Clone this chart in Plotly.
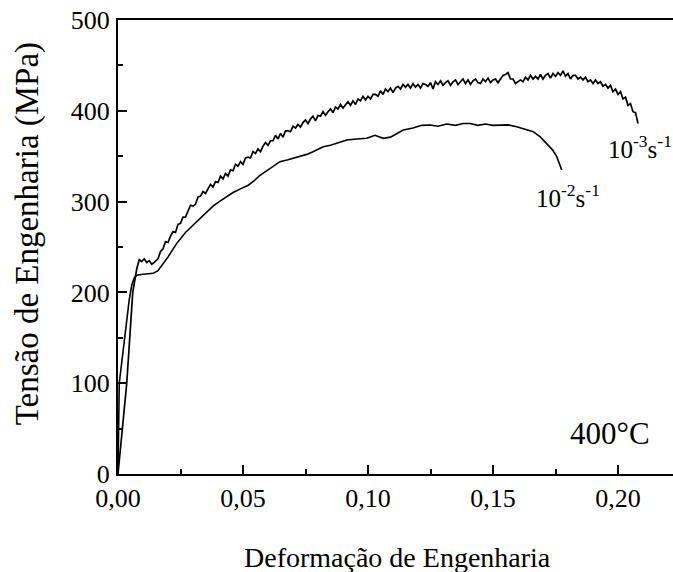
import plotly.graph_objects as go

# ---- data ----
strain_1e2 = [0, 0.0005, 0.0045, 0.0055, 0.0065, 0.0075, 0.010, 0.012, 0.0141, 0.016, 0.018, 0.020,
              0.0235, 0.027, 0.030, 0.033, 0.0355, 0.038, 0.0405, 0.0435, 0.046, 0.049, 0.0521,
              0.0545, 0.0568, 0.060, 0.0625, 0.0648, 0.068, 0.0705, 0.0728, 0.0755, 0.078, 0.0821,
              0.085, 0.088, 0.0915, 0.0955, 0.0995, 0.1028, 0.1061, 0.109, 0.1141, 0.118, 0.1215,
              0.1248, 0.128, 0.1315, 0.135, 0.138, 0.1408, 0.144, 0.147, 0.150, 0.1528, 0.156,
              0.1595, 0.163, 0.1661, 0.169, 0.1715, 0.1738, 0.1755, 0.1775]
stress_1e2 = [0, 100, 192, 208, 216, 219, 220, 220.5, 221, 224, 231, 239,
              254, 266, 274, 282, 289, 295, 300, 305, 310, 314, 318,
              323, 329, 335, 340, 344, 346, 348, 349.5, 352, 355, 360.5,
              362, 365, 367.8, 369, 369.7, 373, 369.7, 371, 378.9, 381, 384,
              384.4, 383, 385.5, 384, 386, 386, 384, 385.5, 384, 384.4, 384.5,
              382.5, 380, 377, 371, 364, 357, 349.5, 334.8]

strain_1e3 = [0, 0.0035, 0.0059, 0.0075, 0.0085, 0.0095, 0.0105, 0.0115, 0.0125, 0.0135, 0.0145,
              0.016, 0.017, 0.018, 0.019, 0.020, 0.021, 0.022, 0.023, 0.024, 0.025,
              0.026, 0.027, 0.028, 0.029, 0.030, 0.031, 0.032, 0.033, 0.034, 0.035,
              0.036, 0.037, 0.038, 0.039, 0.040, 0.041, 0.042, 0.043, 0.044, 0.045,
              0.046, 0.047, 0.048, 0.049, 0.050, 0.051, 0.052, 0.053, 0.054, 0.055,
              0.056, 0.057, 0.058, 0.059, 0.060, 0.061, 0.062, 0.063, 0.064, 0.065,
              0.066, 0.067, 0.068, 0.069, 0.070, 0.071, 0.072, 0.073, 0.074, 0.075,
              0.076, 0.077, 0.078, 0.079, 0.080, 0.081, 0.082, 0.083, 0.084, 0.085,
              0.086, 0.087, 0.088, 0.089, 0.090, 0.091, 0.092, 0.093, 0.094, 0.095,
              0.096, 0.097, 0.098, 0.099, 0.100, 0.101, 0.102, 0.103, 0.104, 0.105,
              0.106, 0.107, 0.108, 0.109, 0.110, 0.111, 0.112, 0.113, 0.114, 0.115,
              0.116, 0.117, 0.118, 0.119, 0.120, 0.121, 0.122, 0.123, 0.124, 0.125,
              0.126, 0.127, 0.128, 0.129, 0.130, 0.131, 0.132, 0.133, 0.134, 0.135,
              0.136, 0.137, 0.138, 0.139, 0.140, 0.141, 0.142, 0.143, 0.144, 0.145,
              0.146, 0.147, 0.148, 0.149, 0.150, 0.151, 0.152, 0.153, 0.154, 0.155,
              0.156, 0.157, 0.158, 0.159, 0.160, 0.161, 0.162, 0.163, 0.164, 0.165,
              0.166, 0.167, 0.168, 0.169, 0.170, 0.171, 0.172, 0.173, 0.174, 0.175,
              0.176, 0.177, 0.178, 0.179, 0.180, 0.181, 0.182, 0.183, 0.184, 0.185,
              0.186, 0.187, 0.188, 0.189, 0.190, 0.191, 0.192, 0.193, 0.194, 0.195,
              0.196, 0.197, 0.198, 0.199, 0.200, 0.201, 0.202, 0.203, 0.204, 0.205,
              0.206, 0.207, 0.208]
stress_1e3 = [0, 100, 200, 226, 236, 234, 237, 233, 235, 231, 233,
              237, 245, 248, 256, 255, 262, 267, 266, 275, 276,
              283, 283, 290, 296, 295, 297, 305, 306, 311, 309,
              314, 319, 316, 322, 321, 328, 325, 331, 328, 335,
              334, 341, 339, 344, 341, 348, 349, 348, 355, 353,
              358, 355, 361, 365, 362, 367, 367, 373, 369, 375,
              371, 378, 378, 377, 383, 381, 385, 382, 387, 390,
              386, 391, 394, 389, 395, 394, 399, 395, 399, 402,
              398, 404, 402, 407, 403, 407, 410, 406, 411, 407,
              413, 411, 416, 412, 416, 413, 418, 418, 416, 422,
              418, 424, 421, 425, 420, 425, 427, 424, 429, 426,
              429, 425, 430, 426, 429, 425, 430, 429, 427, 431,
              424, 432, 429, 433, 428, 431, 433, 428, 432, 434,
              429, 432, 435, 430, 434, 429, 433, 435, 431, 430,
              435, 432, 436, 431, 434, 435, 431, 435, 439, 440,
              442, 435, 435, 430, 432, 434, 432, 437, 434, 439,
              435, 438, 435, 440, 435, 439, 441, 436, 441, 438,
              442, 439, 444, 438, 441, 435, 439, 439, 435, 437,
              434, 437, 432, 434, 430, 434, 430, 432, 427, 429,
              425, 428, 421, 424, 418, 421, 413, 415, 406, 408,
              399, 398, 386]

x_ticks = [0, 0.05, 0.10, 0.15, 0.20]
x_tick_labels = ["0,00", "0,05", "0,10", "0,15", "0,20"]
y_ticks = [0, 100, 200, 300, 400, 500]
y_tick_labels = ["0", "100", "200", "300", "400", "500"]

FONT = "Liberation Serif"
TICKFONT = dict(family=FONT, size=26, color="black")

fig = go.Figure()
fig.add_trace(go.Scatter(x=strain_1e2, y=stress_1e2, mode="lines",
                         line=dict(color="black", width=1.6), showlegend=False))
fig.add_trace(go.Scatter(x=strain_1e3, y=stress_1e3, mode="lines",
                         line=dict(color="black", width=1.7), showlegend=False))

fig.update_layout(
    width=673, height=572, margin=dict(l=118, r=0, t=20, b=98),
    font=dict(family=FONT, size=26, color="black"),
    plot_bgcolor="white", paper_bgcolor="white", showlegend=False,
    xaxis=dict(range=[0, 0.222], tickmode="array", tickvals=x_ticks, ticktext=x_tick_labels,
               tickfont=TICKFONT, showline=True, mirror=True, linecolor="black", linewidth=2,
               showgrid=False, zeroline=False, ticks="inside", ticklen=9, tickwidth=1.5,
               tickcolor="black",
               minor=dict(tickvals=[0.025, 0.075, 0.125, 0.175], ticks="inside", ticklen=5,
                          tickwidth=1.5, tickcolor="black")),
    yaxis=dict(range=[0, 500], tickmode="array", tickvals=y_ticks, ticktext=y_tick_labels,
               tickfont=TICKFONT, showline=True, mirror=False, linecolor="black", linewidth=2,
               showgrid=False, zeroline=False, ticks="inside", ticklen=9, tickwidth=1.5,
               tickcolor="black", ticklabelstandoff=1,
               minor=dict(tickvals=[50, 150, 250, 350, 450], ticks="inside", ticklen=5,
                          tickwidth=1.5, tickcolor="black")),
    annotations=[
        dict(x=0.2088, y=360, xref="x", yref="y", text="10<sup>-3</sup>s<sup>-1</sup>",
             showarrow=False, font=dict(family=FONT, size=25, color="black")),
        dict(x=0.1798, y=306, xref="x", yref="y", text="10<sup>-2</sup>s<sup>-1</sup>",
             showarrow=False, font=dict(family=FONT, size=25, color="black")),
        dict(x=0.1968, y=45, xref="x", yref="y", text="400°C",
             showarrow=False, font=dict(family=FONT, size=31, color="black")),
        dict(x=0.5045, y=-0.183, xref="paper", yref="paper", text="Deformação de Engenharia",
             showarrow=False, xanchor="center", yanchor="middle",
             font=dict(family=FONT, size=28, color="black")),
        dict(x=-0.164, y=0.53, xref="paper", yref="paper", text="Tensão de Engenharia (MPa)",
             showarrow=False, textangle=-90, xanchor="center", yanchor="middle",
             font=dict(family=FONT, size=33, color="black")),
    ],
)

fig.write_html("out.html")
